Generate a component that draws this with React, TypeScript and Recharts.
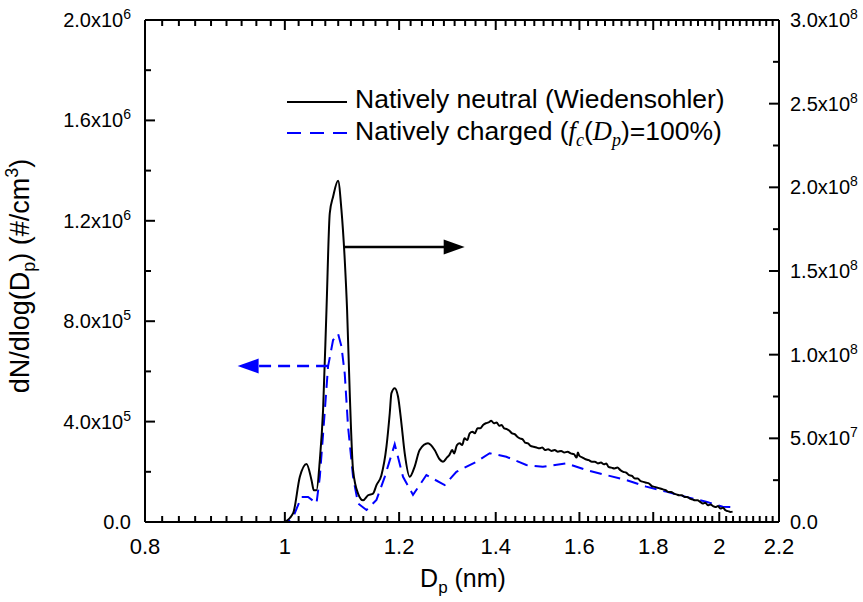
import React from "react";
import { LineChart, Line, XAxis, YAxis, ReferenceLine, Legend, Label } from "recharts";

// ---------- data ----------
const neutralDp = [
  1.0, 1.0133, 1.0242, 1.0352, 1.0435, 1.0473, 1.0518, 1.0574, 1.0629, 1.0687, 1.0743, 1.08, 1.0886,
  1.0945, 1.1003, 1.1044, 1.1091, 1.115, 1.1239, 1.1329, 1.142, 1.1511, 1.1574, 1.1666, 1.176, 1.1822,
  1.1854, 1.1916, 1.1979, 1.2044, 1.2108, 1.2205, 1.23, 1.24, 1.2566, 1.27, 1.28, 1.287, 1.295,
  1.3, 1.306, 1.31, 1.316, 1.322, 1.327, 1.332, 1.338, 1.343, 1.349, 1.354, 1.36, 1.366, 1.372, 1.378,
  1.384, 1.39, 1.396, 1.402, 1.408, 1.413, 1.419, 1.425, 1.431, 1.437, 1.443, 1.449, 1.455, 1.461,
  1.467, 1.474, 1.48, 1.487, 1.494, 1.501, 1.508, 1.515, 1.522, 1.53, 1.538, 1.546, 1.554, 1.562,
  1.57, 1.578, 1.586, 1.593, 1.596, 1.6, 1.608, 1.616, 1.624, 1.632, 1.64, 1.648, 1.656, 1.664, 1.67,
  1.676, 1.684, 1.692, 1.7, 1.708, 1.716, 1.724, 1.732, 1.74, 1.748, 1.756, 1.764, 1.772, 1.78, 1.788,
  1.796, 1.804, 1.812, 1.82, 1.828, 1.836, 1.844, 1.852, 1.86, 1.868, 1.876, 1.884, 1.892, 1.9, 1.908,
  1.916, 1.924, 1.932, 1.94, 1.948, 1.956, 1.964, 1.972, 1.98, 1.988, 1.996, 2.004, 2.012, 2.02, 2.028,
  2.036, 2.043,
];
const neutralN = [
  0, 5.2e6, 2.7e7, 3.47e7, 2.5e7, 1.9e7, 1.9e7, 3.7e7, 6.7e7, 1.27e8, 1.845e8, 1.944e8, 2.04e8,
  1.865e8, 1.566e8, 1.267e8, 7.7e7, 3.1e7, 1.7e7, 1.3e7, 1.6e7, 1.7e7, 2.2e7, 2.8e7, 4.5e7, 6.5e7,
  7.7e7, 8.0e7, 7.5e7, 5.9e7, 4.1e7, 2.7e7, 3.3e7, 4.3e7, 4.7e7, 4.3e7, 3.75e7, 3.6e7, 3.85e7,
  4.0e7, 4.3e7, 4.1e7, 4.6e7, 4.7e7, 4.6e7, 5.0e7, 4.9e7, 5.3e7, 5.4e7, 5.3e7, 5.6e7, 5.6e7, 5.8e7, 5.9e7,
  5.95e7, 6.05e7, 5.9e7, 5.95e7, 5.75e7, 5.8e7, 5.6e7, 5.55e7, 5.45e7, 5.3e7, 5.25e7, 5.1e7, 5.0e7, 4.95e7,
  4.75e7, 4.7e7, 4.55e7, 4.5e7, 4.45e7, 4.4e7, 4.45e7, 4.3e7, 4.35e7, 4.25e7, 4.3e7, 4.2e7, 4.25e7, 4.15e7,
  4.2e7, 4.1e7, 4.05e7, 3.85e7, 4.15e7, 3.95e7, 3.85e7, 3.75e7, 3.7e7, 3.6e7, 3.6e7, 3.5e7, 3.55e7, 3.45e7, 3.5e7,
  3.3e7, 3.25e7, 3.2e7, 3.25e7, 3.1e7, 3.0e7, 2.95e7, 2.8e7, 2.75e7, 2.6e7, 2.6e7, 2.45e7, 2.4e7, 2.35e7, 2.3e7,
  2.15e7, 2.1e7, 2.05e7, 2.0e7, 1.95e7, 1.9e7, 1.8e7, 1.8e7, 1.7e7, 1.65e7, 1.6e7, 1.6e7, 1.5e7, 1.5e7, 1.4e7,
  1.35e7, 1.3e7, 1.3e7, 1.2e7, 1.1e7, 1.15e7, 1.0e7, 1.05e7, 9.5e6, 9.0e6, 9.5e6, 8.0e6, 8.5e6, 7.0e6, 6.5e6,
  6.0e6, 6.2e6,
];

const chargedDp = [
  0.9323, 0.9764, 1.0048, 1.015, 1.027, 1.0378, 1.0518, 1.0574, 1.0629, 1.0714, 1.08, 1.0886, 1.0945,
  1.1003, 1.1061, 1.115, 1.1239, 1.1391, 1.1574, 1.1728, 1.1916, 1.2075, 1.2269, 1.2534, 1.2905, 1.3148,
  1.3574, 1.3865, 1.4239, 1.47, 1.5094, 1.5668, 1.6175, 1.6699, 1.724, 1.7799, 1.8375, 1.897, 1.9585,
  2.011, 2.0433,
];
const chargedN = [
  0, 0, 0, 3.0e4, 1.0e5, 1.0e5, 7.4e4, 1.8e5, 3.5e5, 6.2e5, 7.25e5, 7.5e5, 7.0e5,
  5.9e5, 3.8e5, 1.8e5, 7.4e4, 4.8e4, 8.8e4, 1.8e5, 3.1e5, 1.8e5, 1.08e5, 1.87e5, 1.47e5, 2.0e5,
  2.4e5, 2.74e5, 2.6e5, 2.27e5, 2.2e5, 2.34e5, 2.07e5, 1.87e5, 1.67e5, 1.41e5, 1.21e5, 1.0e5, 8.1e4,
  6.1e4, 5.9e4,
];

const xMajor = [0.8, 1.0, 1.2, 1.4, 1.6, 1.8, 2.0, 2.2];
const xTickLabels = ["0.8", "1", "1.2", "1.4", "1.6", "1.8", "2", "2.2"];

const yLeftMajor = [0, 4e5, 8e5, 1.2e6, 1.6e6, 2.0e6];
const yLeftMant = ["0.0", "4.0", "8.0", "1.2", "1.6", "2.0"];
const yLeftExp = ["", "5", "5", "6", "6", "6"];

const yRightMajor = [0, 5e7, 1e8, 1.5e8, 2e8, 2.5e8, 3e8];
const yRightMant = ["0.0", "5.0", "1.0", "1.5", "2.0", "2.5", "3.0"];
const yRightExp = ["", "7", "8", "8", "8", "8", "8"];

// ---------- derived tables ----------
const neutralData = neutralDp.map((x, i) => ({ x, y: neutralN[i] }));
const chargedData = chargedDp.map((x, i) => ({ x, y: chargedN[i] }));

const xAllTicks: number[] = [];
for (let i = 0; i < xMajor.length; i++) {
  xAllTicks.push(xMajor[i]);
  if (i < xMajor.length - 1) {
    const step = (xMajor[i + 1] - xMajor[i]) / 9;
    for (let k = 1; k < 9; k++) xAllTicks.push(+(xMajor[i] + k * step).toFixed(5));
  }
}
const yLeftAllTicks: number[] = [];
for (let i = 0; i <= 10; i++) yLeftAllTicks.push(i * 2e5);
const yRightAllTicks: number[] = [];
for (let i = 0; i <= 12; i++) yRightAllTicks.push(i * 2.5e7);

const Y_MAX = 2e6;
const PLOT_H = 502;
const FONT = "'Liberation Sans', Arial, sans-serif";
const SERIF = "'Liberation Serif', 'Times New Roman', serif";
const X_FS = 22;
const Y_FS = 20;

const findIdx = (arr: number[], v: number) =>
  arr.findIndex((m) => Math.abs(m - v) <= Math.abs(m) * 1e-6 + 1e-9);

const SciText = ({ x, y, anchor, mant, exp }: any) => (
  <text x={x} y={y} textAnchor={anchor} fontFamily={FONT} fontSize={Y_FS} fill="#000">
    {exp ? `${mant}x10` : mant}
    {exp ? (
      <tspan fontSize={14} dy={-8}>
        {exp}
      </tspan>
    ) : null}
  </text>
);

// bottom axis tick: inward tick at bottom, mirrored tick at the top, and the label for majors
const BottomTick = (props: any) => {
  const { x, y, payload } = props;
  const idx = findIdx(xMajor, payload.value);
  const len = idx >= 0 ? 10 : 6;
  const yt = y - PLOT_H;
  return (
    <g>
      <path d={`M${x},${y}V${y - len}`} stroke="#000" strokeWidth={2} fill="none" />
      <path d={`M${x},${yt}V${yt + len}`} stroke="#000" strokeWidth={2} fill="none" />
      {idx >= 0 ? (
        <text x={x} y={y + 32} textAnchor="middle" fontFamily={FONT} fontSize={X_FS} fill="#000">
          {xTickLabels[idx]}
        </text>
      ) : null}
    </g>
  );
};

const LeftTick = (props: any) => {
  const { x, y, payload } = props;
  const idx = findIdx(yLeftMajor, payload.value);
  const len = idx >= 0 ? 10 : 6;
  return (
    <g>
      <line x1={x} x2={x + len} y1={y} y2={y} stroke="#000" strokeWidth={2} />
      {idx >= 0 ? <SciText x={x - 14} y={y + 7} anchor="end" mant={yLeftMant[idx]} exp={yLeftExp[idx]} /> : null}
    </g>
  );
};

const RightTick = (props: any) => {
  const { x, y, payload } = props;
  const idx = findIdx(yRightMajor, payload.value);
  const len = idx >= 0 ? 10 : 6;
  return (
    <g>
      <line x1={x} x2={x - len} y1={y} y2={y} stroke="#000" strokeWidth={2} />
      {idx >= 0 ? <SciText x={x + 11} y={y + 7} anchor="start" mant={yRightMant[idx]} exp={yRightExp[idx]} /> : null}
    </g>
  );
};

const RightArrow = (p: any) => {
  const { x1, y1, x2, y2 } = p;
  return (
    <g>
      <line x1={x1} y1={y1} x2={x2 - 18} y2={y2} stroke="#000" strokeWidth={2.5} />
      <polygon points={`${x2},${y2} ${x2 - 21},${y2 - 7.5} ${x2 - 21},${y2 + 7.5}`} fill="#000" />
    </g>
  );
};

const LeftArrow = (p: any) => {
  const { x1, y1, x2, y2 } = p;
  return (
    <g>
      <line x1={x1} y1={y1} x2={x2 + 21} y2={y2} stroke="#0000ff" strokeWidth={2.5} strokeDasharray="12 7" />
      <polygon points={`${x2},${y2} ${x2 + 21},${y2 - 7.5} ${x2 + 21},${y2 + 7.5}`} fill="#0000ff" />
    </g>
  );
};

const LegendContent = () => (
  <svg width={480} height={70} style={{ overflow: "visible", display: "block" }}>
    <line x1={7} x2={67} y1={22} y2={22} stroke="#000" strokeWidth={2} />
    <text x={75} y={28} fontFamily={FONT} fontSize={26.5} fill="#000">
      Natively neutral (Wiedensohler)
    </text>
    <line x1={7} x2={67} y1={53} y2={53} stroke="#0000ff" strokeWidth={2} strokeDasharray="14 9" />
    <text x={75} y={60} fontFamily={FONT} fontSize={26.5} fill="#000">
      Natively charged (
      <tspan fontFamily={SERIF} fontStyle="italic">f</tspan>
      <tspan fontFamily={SERIF} fontStyle="italic" fontSize={18} dy={6}>c</tspan>
      <tspan dy={-6}>(</tspan>
      <tspan fontFamily={SERIF} fontStyle="italic">D</tspan>
      <tspan fontFamily={SERIF} fontStyle="italic" fontSize={18} dy={6}>p</tspan>
      <tspan dy={-6}>)=100%)</tspan>
    </text>
  </svg>
);

const LeftTitle = () => (
  <text
    transform="translate(29,276) rotate(-90)"
    textAnchor="middle"
    fontFamily={FONT}
    fontSize={27}
    fill="#000"
  >
    dN/dlog(D
    <tspan fontSize={18} dy={6}>p</tspan>
    <tspan dy={-6}>) (#/cm</tspan>
    <tspan fontSize={18} dy={-11}>3</tspan>
    <tspan dy={11}>)</tspan>
  </text>
);

const BottomTitle = () => (
  <text x={463} y={587} textAnchor="middle" fontFamily={FONT} fontSize={25} fill="#000">
    D
    <tspan fontSize={17} dy={6}>p</tspan>
    <tspan dy={-6}> (nm)</tspan>
  </text>
);

export default function App() {
  return (
    <div style={{ position: "absolute", left: 0, top: 0 }}>
      <LineChart width={863} height={602} margin={{ top: 20, right: 0, bottom: 0, left: 0 }}>
        <XAxis
          xAxisId="b"
          orientation="bottom"
          type="number"
          dataKey="x"
          scale="log"
          domain={[0.8, 2.2]}
          allowDataOverflow
          ticks={xAllTicks}
          interval={0}
          height={80}
          tickSize={0}
          tickMargin={0}
          tickLine={false}
          axisLine={{ stroke: "#000", strokeWidth: 2 }}
          tick={(p: any) => <BottomTick {...p} />}
        >
          <Label content={() => <BottomTitle />} />
        </XAxis>
        <YAxis
          yAxisId="L"
          orientation="left"
          type="number"
          domain={[0, Y_MAX]}
          allowDataOverflow
          ticks={yLeftAllTicks}
          interval={0}
          width={145}
          tickSize={0}
          tickMargin={0}
          tickLine={false}
          axisLine={{ stroke: "#000", strokeWidth: 2 }}
          tick={(p: any) => <LeftTick {...p} />}
        >
          <Label content={() => <LeftTitle />} />
        </YAxis>
        <YAxis
          yAxisId="R"
          orientation="right"
          type="number"
          domain={[0, 3e8]}
          allowDataOverflow
          ticks={yRightAllTicks}
          interval={0}
          width={84}
          tickSize={0}
          tickMargin={0}
          tickLine={false}
          axisLine={{ stroke: "#000", strokeWidth: 2 }}
          tick={(p: any) => <RightTick {...p} />}
        />
        <Legend
          layout="horizontal"
          verticalAlign="middle"
          align="center"
          wrapperStyle={{ left: 280, top: 80, width: 480, height: 70 }}
          content={() => <LegendContent />}
        />
        <ReferenceLine xAxisId="b" yAxisId="L" y={Y_MAX} stroke="#000" strokeWidth={2} ifOverflow="visible" />
        <Line
          xAxisId="b"
          yAxisId="L"
          data={chargedData}
          dataKey="y"
          type="linear"
          stroke="#0000ff"
          strokeWidth={2}
          strokeDasharray="12 7"
          dot={false}
          activeDot={false}
          isAnimationActive={false}
        />
        <Line
          xAxisId="b"
          yAxisId="R"
          data={neutralData}
          dataKey="y"
          type="monotone"
          stroke="#000"
          strokeWidth={2}
          dot={false}
          activeDot={false}
          isAnimationActive={false}
        />
        <ReferenceLine
          xAxisId="b"
          yAxisId="R"
          segment={[
            { x: 1.0986, y: 1.643e8 },
            { x: 1.3323, y: 1.643e8 },
          ]}
          shape={(p: any) => <RightArrow {...p} />}
        />
        <ReferenceLine
          xAxisId="b"
          yAxisId="L"
          segment={[
            { x: 1.0714, y: 6.215e5 },
            { x: 0.9274, y: 6.215e5 },
          ]}
          shape={(p: any) => <LeftArrow {...p} />}
        />
      </LineChart>
    </div>
  );
}
